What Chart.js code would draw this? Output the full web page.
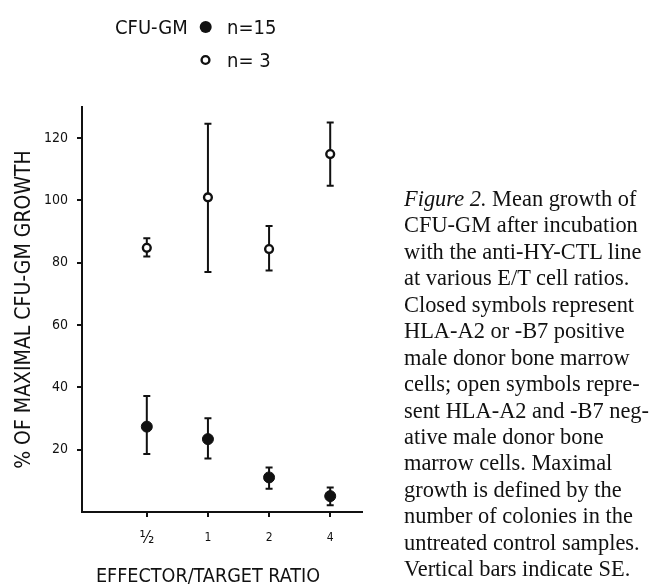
<!DOCTYPE html>
<html>
<head>
<meta charset="utf-8">
<script src="https://cdn.jsdelivr.net/npm/chart.js@4"></script>
<style>
html,body{margin:0;padding:0;background:#fff;}
#wrap{position:relative;width:652px;height:584px;overflow:hidden;background:#fff;}
#c{position:absolute;left:0;top:0;}
#caption{position:absolute;left:404px;top:186px;font-family:'Liberation Serif','Times New Roman',serif;font-size:22.4px;line-height:26.43px;color:#111;white-space:nowrap;}
</style>
</head>
<body>
<div id="wrap">
<canvas id="c" width="652" height="584"></canvas>
<div id="caption"></div>
</div>
<script>
// ---- data ----
const ratioLabels = ['½', '1', '2', '4'];
const ratioPos = [1, 2, 3, 4];
const closedMean = [27.4, 23.4, 11.1, 5.1];
const closedLow  = [18.6, 17.2, 7.5, 2.2];
const closedHigh = [37.2, 30.1, 14.3, 7.9];
const openMean = [84.8, 101.0, 84.4, 114.9];
const openLow  = [82.0, 77.0, 77.5, 104.7];
const openHigh = [87.9, 124.6, 91.8, 125.0];
const yTicks = [20, 40, 60, 80, 100, 120];
const legendTitle = 'CFU-GM';
const seriesLabels = ['n=15', 'n= 3'];
const xTitle = 'EFFECTOR/TARGET RATIO';
const yTitle = '% OF MAXIMAL CFU-GM GROWTH';
const captionLead = 'Figure 2.';
const captionLines = [
  ' Mean growth of',
  'CFU-GM after incubation',
  'with the anti-HY-CTL line',
  'at various E/T cell ratios.',
  'Closed symbols represent',
  'HLA-A2 or -B7 positive',
  'male donor bone marrow',
  'cells; open symbols repre-',
  'sent HLA-A2 and -B7 neg-',
  'ative male donor bone',
  'marrow cells. Maximal',
  'growth is defined by the',
  'number of colonies in the',
  'untreated control samples.',
  'Vertical bars indicate SE.'
];

// ---- caption as real text ----
const cap = document.getElementById('caption');
captionLines.forEach((t, i) => {
  const d = document.createElement('div');
  if (i === 0) {
    const em = document.createElement('i');
    em.textContent = captionLead;
    d.appendChild(em);
    d.appendChild(document.createTextNode(t));
  } else {
    d.textContent = t;
  }
  cap.appendChild(d);
});

const SANS = "'DejaVu Sans Condensed','Liberation Sans Narrow',sans-serif";
const INK = '#111';
const lows = [closedLow, openLow];
const highs = [closedHigh, openHigh];

const errorBars = {
  id: 'errorBars',
  beforeDatasetsDraw(chart) {
    const ctx = chart.ctx, xs = chart.scales.x, ys = chart.scales.y;
    chart.data.datasets.forEach((ds, di) => {
      ds.data.forEach((p, i) => {
        const x = xs.getPixelForValue(p.x);
        const yl = ys.getPixelForValue(lows[di][i]);
        const yh = ys.getPixelForValue(highs[di][i]);
        ctx.save();
        ctx.strokeStyle = INK;
        ctx.lineWidth = 2;
        ctx.beginPath();
        ctx.moveTo(x, yl); ctx.lineTo(x, yh);
        ctx.moveTo(x - 3.5, yl); ctx.lineTo(x + 3.5, yl);
        ctx.moveTo(x - 3.5, yh); ctx.lineTo(x + 3.5, yh);
        ctx.stroke();
        ctx.restore();
      });
    });
  }
};

const customLegend = {
  id: 'customLegend',
  afterDraw(chart) {
    const ctx = chart.ctx;
    const ds = chart.data.datasets;
    ctx.save();
    ctx.fillStyle = INK;
    ctx.font = '20px ' + SANS;
    ctx.textBaseline = 'alphabetic';
    ctx.textAlign = 'left';
    ctx.fillText(legendTitle, 115, 34);
    ctx.fillText(seriesLabels[0], 227, 34);
    ctx.fillText(seriesLabels[1], 227, 67);
    // symbols
    ctx.beginPath();
    ctx.arc(205.7, 27, ds[0].pointRadius + ds[0].pointBorderWidth / 2, 0, Math.PI * 2);
    ctx.fillStyle = ds[0].pointBackgroundColor;
    ctx.fill();
    ctx.beginPath();
    ctx.arc(205.5, 60, ds[1].pointRadius, 0, Math.PI * 2);
    ctx.fillStyle = ds[1].pointBackgroundColor;
    ctx.fill();
    ctx.lineWidth = ds[1].pointBorderWidth;
    ctx.strokeStyle = ds[1].pointBorderColor;
    ctx.stroke();
    ctx.restore();
  }
};

new Chart(document.getElementById('c'), {
  type: 'scatter',
  data: {
    datasets: [
      {
        label: seriesLabels[0],
        data: ratioPos.map((x, i) => ({ x, y: closedMean[i] })),
        pointRadius: 5.5,
        pointBorderWidth: 1,
        pointBackgroundColor: INK,
        pointBorderColor: INK,
        showLine: false
      },
      {
        label: seriesLabels[1],
        data: ratioPos.map((x, i) => ({ x, y: openMean[i] })),
        pointRadius: 3.9,
        pointBorderWidth: 2.4,
        pointBackgroundColor: '#fff',
        pointBorderColor: INK,
        showLine: false
      }
    ]
  },
  options: {
    responsive: false,
    animation: false,
    devicePixelRatio: 1,
    layout: { padding: { top: 107, right: 290, bottom: 0, left: 0 } },
    plugins: { legend: { display: false }, tooltip: { enabled: false } },
    scales: {
      x: {
        type: 'linear',
        min: -0.06,
        max: 4.52,
        afterFit(s) { s.height = 72; },
        afterBuildTicks(s) { s.ticks = ratioPos.map(v => ({ value: v })); },
        ticks: {
          callback: (v) => { const k = ratioPos.indexOf(v); return k >= 0 ? ratioLabels[k] : ''; },
          font: (ctx) => (ctx.index === 0
            ? { family: SANS, size: 17, lineHeight: 14.4 / 17 }
            : { family: SANS, size: 12, lineHeight: 1.2 }),
          color: INK,
          padding: 14,
          maxRotation: 0,
          autoSkip: false
        },
        grid: { drawOnChartArea: false, drawTicks: true, tickLength: 5, color: INK, lineWidth: 2 },
        border: { display: true, color: INK, width: 2 },
        title: {
          display: true,
          text: xTitle + '     ',
          font: { family: SANS, size: 19.6, lineHeight: 1 },
          color: INK,
          padding: { top: 0, bottom: -3 }
        }
      },
      y: {
        type: 'linear',
        min: 0,
        max: 130,
        afterFit(s) { s.width = 82; },
        afterBuildTicks(s) { s.ticks = yTicks.map(v => ({ value: v })); },
        ticks: { font: { family: SANS, size: 14 }, color: INK, padding: 9 },
        grid: { drawOnChartArea: false, drawTicks: true, tickLength: 5, color: INK, lineWidth: 2 },
        border: { display: true, color: INK, width: 2 },
        title: {
          display: true,
          text: yTitle,
          font: { family: SANS, size: 21, lineHeight: 1 },
          color: INK,
          padding: { top: 14.5, bottom: 0 }
        }
      }
    }
  },
  plugins: [errorBars, customLegend]
});
</script>
</body>
</html>
